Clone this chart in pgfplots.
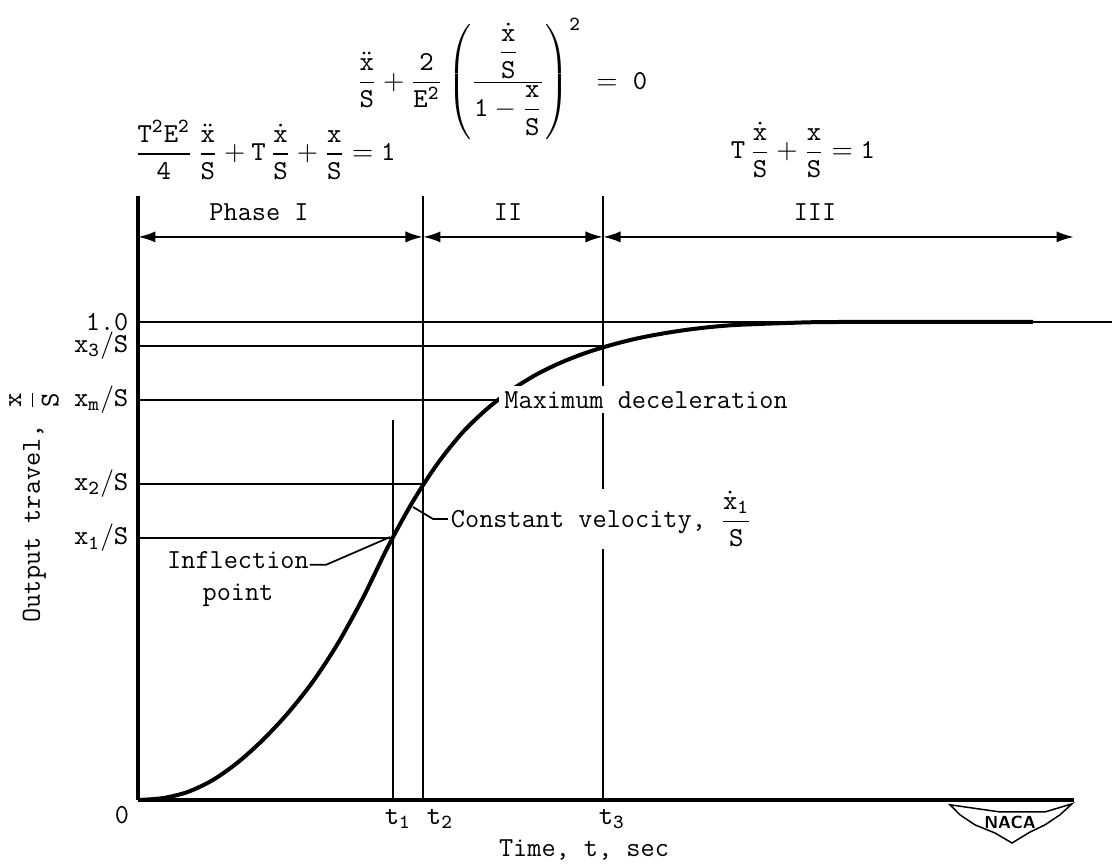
\documentclass[border=0pt]{standalone}
\usepackage{amsmath}
\usepackage{pgfplots}
\pgfplotsset{compat=1.18}
\usetikzlibrary{arrows.meta}

% typewriter letters in math
\newcommand{\tx}{\mathtt{x}}
\newcommand{\tS}{\mathtt{S}}
\newcommand{\tT}{\mathtt{T}}
\newcommand{\tE}{\mathtt{E}}

\begin{document}
\fontsize{11}{13}\selectfont\ttfamily
\begin{tikzpicture}
% 1 px of the reference = 0.4pt, origin of the axis at px (138,800)
\useasboundingbox (-55.2pt,-25.6pt) rectangle (391.2pt,320pt);
\begin{axis}[
  scale only axis, width=374.4pt, height=241.6pt,
  xmin=0, xmax=9.36, ymin=0, ymax=1.2636,
  axis x line*=bottom, axis y line*=left,
  axis line style={line width=1.3pt},
  clip=false,
  major tick length=0pt, tick style={draw=none},
  xtick={2.60,3.02,4.74},
  xticklabels={$\mathtt{t}_{\mathtt{1}}$, $\mathtt{t}_{\mathtt{2}}$, $\mathtt{t}_{\mathtt{3}}$},
  ytick={0.548,0.661,0.837,0.950,1.0},
  yticklabels={$\tx_{\mathtt{1}}\mathtt{/S}$, $\tx_{\mathtt{2}}\mathtt{/S}$,
               $\tx_{\mathtt{m}}\mathtt{/S}$, $\tx_{\mathtt{3}}\mathtt{/S}$, 1.0},
  xlabel={Time, t, sec},
  ylabel={Output travel, $\dfrac{\tx}{\tS}$},
  every axis x label/.style={at={(axis cs:4.46,-0.105)}, anchor=center},
  every axis y label/.style={at={(axis cs:-1.04,0.615)}, anchor=center, rotate=90},
  thinline/.style={line width=0.7pt, black, no marks},
  phasearrow/.style={line width=0.9pt, black, no marks,
    {Latex[length=7pt,width=4.5pt]}-{Latex[length=7pt,width=4.5pt]}},
]

% reference levels
\addplot[thinline] coordinates {(0,1.0) (9.74,1.0)};
\addplot[thinline] coordinates {(0,0.950) (4.66,0.950)};
\addplot[thinline] coordinates {(0,0.837) (3.59,0.837)};
\addplot[thinline] coordinates {(0,0.661) (2.85,0.661)};
\addplot[thinline] coordinates {(0,0.548) (2.54,0.548)};

% time marks
\addplot[thinline] coordinates {(2.55,0) (2.55,0.795)};
\addplot[thinline] coordinates {(2.85,0) (2.85,1.2636)};
\addplot[thinline] coordinates {(4.65,0) (4.65,1.2636)};

% phase arrows
\addplot[phasearrow] coordinates {(0,1.178) (2.85,1.178)};
\addplot[phasearrow] coordinates {(2.85,1.178) (4.65,1.178)};
\addplot[phasearrow] coordinates {(4.65,1.178) (9.36,1.178)};

% response curve
\addplot[line width=1.6pt, black, smooth, no marks] coordinates {
  (0,0) (0.25,0.004) (0.5,0.017) (0.75,0.042) (1.0,0.079) (1.25,0.126)
  (1.5,0.182) (1.75,0.248) (2.0,0.328) (2.25,0.423) (2.5,0.530)
  (2.75,0.625) (3.0,0.705) (3.25,0.770) (3.5,0.820) (3.75,0.860)
  (4.0,0.892) (4.25,0.917) (4.5,0.937) (4.75,0.953) (5.0,0.966)
  (5.25,0.976) (5.5,0.984) (5.75,0.990) (6.0,0.994) (6.5,0.998)
  (7.0,1.0) (8.95,1.0)
};

% leaders
\addplot[thinline] coordinates {(1.72,0.492) (1.88,0.492) (2.52,0.550)};
\addplot[thinline] coordinates {(2.75,0.613) (2.95,0.588) (3.10,0.588)};

% annotations
\node[anchor=west, fill=white, inner sep=2pt] at (axis cs:3.61,0.837) {Maximum deceleration};
\node[anchor=west, fill=white, inner sep=1pt] at (axis cs:3.10,0.588)
  {Constant velocity, $\dfrac{\dot{\tx}_{\mathtt{1}}}{\tS}$};
\node[align=center] at (axis cs:1.00,0.462) {Inflection\\point};
\node at (axis cs:-0.16,-0.031) {0};

\node at (axis cs:1.21,1.230) {Phase I};
\node at (axis cs:3.70,1.230) {II};
\node at (axis cs:6.77,1.230) {III};

% equations
\node at (axis cs:3.64,1.508) {$\displaystyle
  \frac{\ddot{\tx}}{\tS} + \frac{\mathtt{2}}{\tE^{\mathtt{2}}}
  \left(\dfrac{\dfrac{\dot{\tx}}{\tS}}{\mathtt{1} - \dfrac{\tx}{\tS}}\right)^{\mathtt{2}}
  \;=\; \mathtt{0}$};
\node at (axis cs:1.27,1.360) {$\displaystyle
  \frac{\tT^{\mathtt{2}}\tE^{\mathtt{2}}}{\mathtt{4}}\,\frac{\ddot{\tx}}{\tS}
  + \tT\,\frac{\dot{\tx}}{\tS} + \frac{\tx}{\tS} = \mathtt{1}$};
\node at (axis cs:6.65,1.360) {$\displaystyle
  \tT\,\frac{\dot{\tx}}{\tS} + \frac{\tx}{\tS} = \mathtt{1}$};

% NACA emblem
\draw[line width=0.6pt] (axis cs:8.12,-0.010) -- (axis cs:8.62,-0.025) -- (axis cs:9.07,-0.025)
  -- (axis cs:9.34,-0.008) -- (axis cs:9.22,-0.031) -- (axis cs:9.07,-0.052)
  -- (axis cs:8.92,-0.067) -- (axis cs:8.74,-0.090) -- (axis cs:8.57,-0.069)
  -- (axis cs:8.37,-0.052) -- (axis cs:8.22,-0.031) -- cycle;
\node[font=\sffamily\bfseries\scriptsize, inner sep=0pt] at (axis cs:8.72,-0.046) {NACA};
\end{axis}
\end{tikzpicture}
\end{document}
